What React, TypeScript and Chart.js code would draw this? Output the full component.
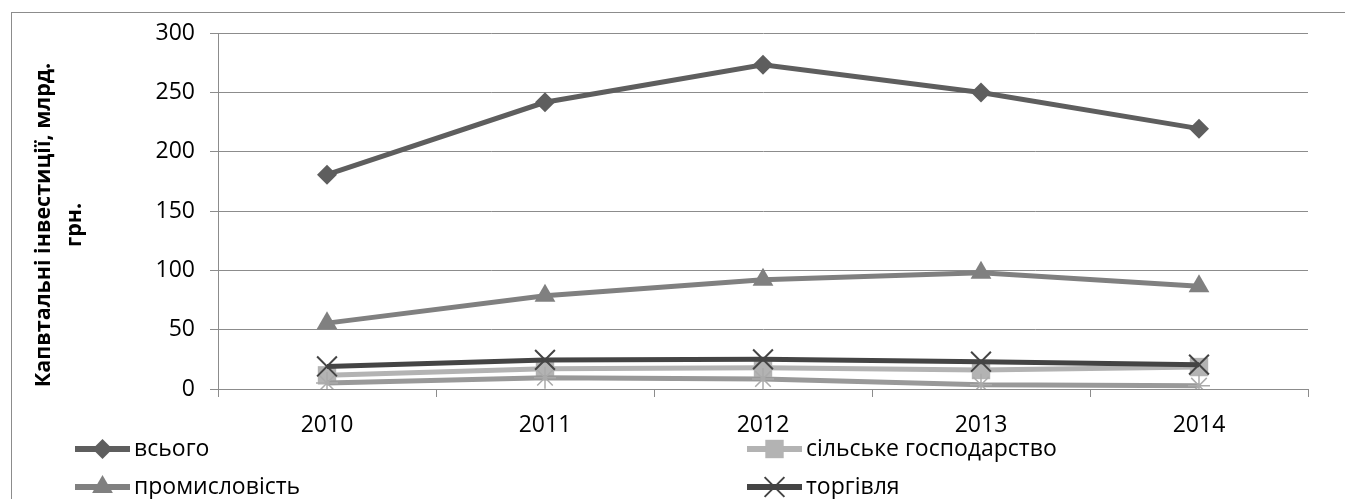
import React, { useEffect, useRef } from 'react';
import { Chart, registerables } from 'chart.js';

Chart.register(...registerables);

const years = ['2010', '2011', '2012', '2013', '2014'];
const totalValues = [180.6, 241.6, 273.3, 249.9, 219.4];
const agricultureValues = [11.5, 17, 18, 16, 18.5];
const industryValues = [55.5, 78.5, 92, 98, 86.5];
const tradeValues = [19, 24.5, 25, 23, 20.5];
const otherValues = [5, 9.5, 8.5, 3.5, 2.8];
const yTicks = [0, 50, 100, 150, 200, 250, 300];
const yTitle = ['Капвтальні інвестиції, млрд.', 'грн.'];
const seriesNames = ['всього', 'сільське господарство', 'промисловість', 'торгівля', 'інше'];

const FONT = '"Open Sans", "Liberation Sans", sans-serif';

function drawMarker(ctx: CanvasRenderingContext2D, style: string, x: number, y: number, r: number, fill: string, stroke: string) {
  ctx.save();
  ctx.fillStyle = fill;
  ctx.strokeStyle = stroke;
  ctx.lineWidth = 2;
  ctx.beginPath();
  if (style === 'rectRot') {
    ctx.moveTo(x, y - r);
    ctx.lineTo(x + r, y);
    ctx.lineTo(x, y + r);
    ctx.lineTo(x - r, y);
    ctx.closePath();
    ctx.fill();
  } else if (style === 'rect') {
    const s = r * Math.SQRT1_2;
    ctx.rect(x - s, y - s, 2 * s, 2 * s);
    ctx.fill();
  } else if (style === 'triangle') {
    ctx.moveTo(x, y - r);
    ctx.lineTo(x + r * 0.866, y + r * 0.5);
    ctx.lineTo(x - r * 0.866, y + r * 0.5);
    ctx.closePath();
    ctx.fill();
  } else if (style === 'crossRot') {
    const d = r * Math.SQRT1_2;
    ctx.moveTo(x - d, y - d);
    ctx.lineTo(x + d, y + d);
    ctx.moveTo(x + d, y - d);
    ctx.lineTo(x - d, y + d);
    ctx.stroke();
  }
  ctx.restore();
}

const frameLegendPlugin = {
  id: 'frameLegend',
  beforeDraw(chart: any) {
    const ctx = chart.ctx;
    ctx.save();
    ctx.strokeStyle = '#8c8c8c';
    ctx.lineWidth = 1;
    ctx.strokeRect(11.5, 12.5, 1500, 700);
    ctx.restore();
  },
  afterDraw(chart: any) {
    const ctx: CanvasRenderingContext2D = chart.ctx;
    // rotated axis title
    ctx.save();
    ctx.fillStyle = '#000';
    ctx.font = `bold 21.5px ${FONT}`;
    ctx.textAlign = 'center';
    ctx.textBaseline = 'middle';
    const titleCenterY = chart.chartArea.top + (chart.chartArea.bottom - chart.chartArea.top) / 2 + 14;
    yTitle.forEach((line, i) => {
      ctx.save();
      ctx.translate(44 + i * 31, titleCenterY);
      ctx.rotate(-Math.PI / 2);
      ctx.fillText(line, 0, 0);
      ctx.restore();
    });
    ctx.restore();

    const slots = [
      { ds: 0, x: 75, y: 449 },
      { ds: 1, x: 747, y: 449 },
      { ds: 2, x: 75, y: 487 },
      { ds: 3, x: 747, y: 487 },
    ];
    slots.forEach((s) => {
      const ds = chart.data.datasets[s.ds];
      const lineLen = 55;
      ctx.save();
      ctx.strokeStyle = ds.borderColor;
      ctx.lineWidth = ds.borderWidth + 1;
      ctx.beginPath();
      ctx.moveTo(s.x, s.y);
      ctx.lineTo(s.x + lineLen, s.y);
      ctx.stroke();
      ctx.restore();
      drawMarker(ctx, ds.pointStyle, s.x + lineLen / 2, s.y, ds.pointRadius, ds.pointBackgroundColor, ds.pointBorderColor);
      ctx.save();
      ctx.fillStyle = '#000';
      ctx.font = `23px ${FONT}`;
      ctx.textBaseline = 'middle';
      ctx.textAlign = 'left';
      ctx.fillText(ds.label, s.x + lineLen + 4, s.y);
      ctx.restore();
    });
  },
};

export default function App() {
  const ref = useRef<HTMLCanvasElement | null>(null);
  useEffect(() => {
    document.body.style.margin = '0';
    if (!ref.current) return;
    const chart = new Chart(ref.current, {
      type: 'line',
      data: {
        labels: years,
        datasets: [
          {
            label: seriesNames[0],
            data: totalValues,
            borderColor: '#5e5e5e',
            backgroundColor: '#5e5e5e',
            borderWidth: 5,
            pointStyle: 'rectRot',
            pointRadius: 10,
            pointBackgroundColor: '#5e5e5e',
            pointBorderColor: '#5e5e5e',
            pointBorderWidth: 0,
            order: 1,
          },
          {
            label: seriesNames[1],
            data: agricultureValues,
            borderColor: '#b3b3b3',
            backgroundColor: '#b3b3b3',
            borderWidth: 5,
            pointStyle: 'rect',
            pointRadius: 13,
            pointBackgroundColor: '#b3b3b3',
            pointBorderColor: '#b3b3b3',
            pointBorderWidth: 0,
            order: 5,
          },
          {
            label: seriesNames[2],
            data: industryValues,
            borderColor: '#808080',
            backgroundColor: '#808080',
            borderWidth: 5,
            pointStyle: 'triangle',
            pointRadius: 12,
            pointBackgroundColor: '#808080',
            pointBorderColor: '#808080',
            pointBorderWidth: 0,
            order: 3,
          },
          {
            label: seriesNames[3],
            data: tradeValues,
            borderColor: '#444444',
            backgroundColor: '#444444',
            borderWidth: 5,
            pointStyle: 'crossRot',
            pointRadius: 14,
            pointBackgroundColor: '#444444',
            pointBorderColor: '#444444',
            pointBorderWidth: 2,
            order: 2,
          },
          {
            label: seriesNames[4],
            data: otherValues,
            borderColor: '#999999',
            backgroundColor: '#999999',
            borderWidth: 5,
            pointStyle: 'star',
            pointRadius: 11,
            pointBackgroundColor: '#aaaaaa',
            pointBorderColor: '#aaaaaa',
            pointBorderWidth: 1.5,
            order: 4,
          },
        ],
      },
      options: {
        animation: false,
        responsive: true,
        maintainAspectRatio: false,
        layout: { padding: { left: 0, top: 33, right: 37, bottom: 0 } },
        plugins: {
          legend: { display: false },
          tooltip: { enabled: false },
        },
        elements: { line: { tension: 0 } },
        scales: {
          x: {
            offset: true,
            afterFit: (s: any) => { s.height = 110; },
            grid: {
              offset: true,
              drawOnChartArea: false,
              drawTicks: true,
              tickLength: 8,
              color: '#8c8c8c',
            },
            border: { color: '#8c8c8c', width: 1 },
            ticks: {
              color: '#000',
              font: { family: FONT, size: 23 },
              padding: 15,
              maxRotation: 0,
            },
          },
          y: {
            min: 0,
            max: 300,
            afterFit: (s: any) => { s.width = 218; },
            afterBuildTicks: (s: any) => { s.ticks = yTicks.map((v) => ({ value: v })); },
            grid: {
              color: '#8c8c8c',
              drawTicks: true,
              tickLength: 8,
            },
            border: { color: '#8c8c8c', width: 1 },
            ticks: {
              color: '#000',
              font: { family: FONT, size: 23 },
              padding: 15,
            },
            title: { display: false },
          },
        },
      },
      plugins: [frameLegendPlugin],
    } as any);
    return () => chart.destroy();
  }, []);
  return (
    <div style={{ width: 1345, height: 499, position: 'relative' }}>
      <canvas ref={ref} />
    </div>
  );
}
